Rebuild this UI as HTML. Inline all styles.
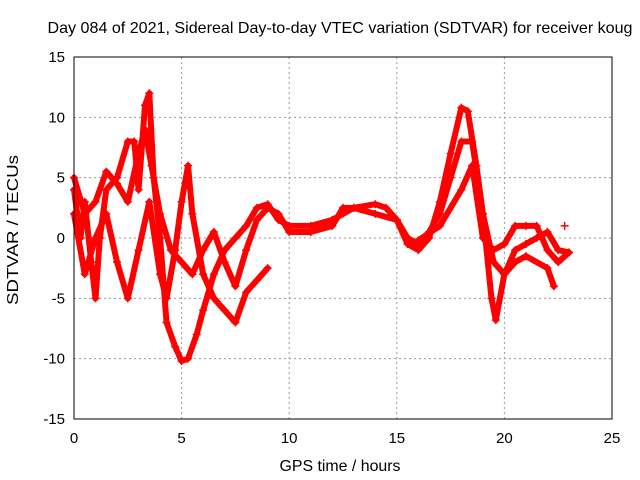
<!DOCTYPE html>
<html><head><meta charset="utf-8"><style>
body{margin:0;background:#fff;}
svg{display:block;font-family:"Liberation Sans",sans-serif;}
</style></head><body>
<svg id="chart" width="640" height="480">
<rect x="0" y="0" width="640" height="480" fill="#fff"/>
<text x="340" y="33" font-size="16" text-anchor="middle" textLength="585" lengthAdjust="spacingAndGlyphs">Day 084 of 2021, Sidereal Day-to-day VTEC variation (SDTVAR) for receiver koug</text>
<text x="340" y="471" font-size="16" text-anchor="middle" textLength="121" lengthAdjust="spacingAndGlyphs">GPS time / hours</text>
<text x="18" y="230" font-size="16" text-anchor="middle" textLength="150" lengthAdjust="spacingAndGlyphs" transform="rotate(-90 18 230)">SDTVAR / TECUs</text>
<g id="grid"></g><g id="ticks"></g><g id="series"></g>
<rect x="74" y="57" width="538" height="362" fill="none" stroke="#000" stroke-width="1"/>
</svg>
<script>
const xTicks=[0,5,10,15,20,25];
const yTicks=[15,10,5,0,-5,-10,-15];
const s1x=[0,0.3,0.5,0.8,1,1.2,1.5,2,2.5,2.8,3,3.3,3.5,3.7,4,4.3,4.7,5,5.3,5.7,6,6.5,7,7.5,8,8.5,9,9.5,10,11,12,13,14,14.5,15,15.5,16,16.5,17,17.5,18,18.3,18.7,19,19.4,19.6,20,20.5,21,21.5,22,22.5,23];
const s1y=[4,0,3,-2,-5,0,4,5,8,8,4,11,12,5,0,-7,-9,-10.2,-10,-8,-6,-3,-1,0,1,2.5,2.8,1.5,1,1,1.5,2.5,2.8,2.5,1.5,-0.5,-1,0,3,7,10.8,10.5,6,2,-5,-6.8,-3,-1,-0.5,0,0.5,-1,-1.2];
const s2x=[0,0.5,1,1.5,2,2.5,3,3.5,4,4.3,4.7,5,5.3,5.5,6,6.5,7,7.5,8,8.5,9];
const s2y=[2,-3,0,2,-2,-5,-1,3,-3,-5,-1,3,6,2,-3,-5,-6,-7,-4.5,-3.5,-2.5];
const s3x=[0,0.5,1,1.5,2,2.5,3,3.3,3.6,4,4.5,5,5.5,6,6.5,7,7.5,8,8.5,9,9.5,10,11,12,12.5,13,14,15,15.5,16,16.5,17,17.5,18,18.5,19,19.5,20,20.5,21,22,22.3];
const s3y=[5,2,3,5.5,4.5,3,7,9,6,2,-1,-2,-3,-1,0.5,-2,-4,-1,1.5,2.5,2,0.5,0.5,1,2.5,2.5,2,1.5,0,-0.5,0.5,2,5,8,8,2,-2,-3,-2,-1.5,-2.5,-4];
const s4x=[16,17,18,18.5,19,19.5,20,20.5,21,21.5,22,22.5,23];
const s4y=[-0.2,1,4,6,0,-1,-0.5,1,1,1,-1,-2,-1.2];
const s5x=[22.8];
const s5y=[1];
const NS="http://www.w3.org/2000/svg";
function X(v){return 74+v*538/25;}
function Y(v){return 238-v*362/30;}
const grid=document.getElementById('grid'),ticks=document.getElementById('ticks'),ser=document.getElementById('series');
function mk(tag,attrs,parent){const e=document.createElementNS(NS,tag);for(const k in attrs)e.setAttribute(k,attrs[k]);parent.appendChild(e);return e;}
xTicks.forEach(t=>{
 if(t>0&&t<25){const g=mk('line',{x1:X(t),x2:X(t),y1:57,y2:419,stroke:'#999','stroke-dasharray':'2,3','stroke-width':1},grid);
 
 }
 const l=mk('text',{x:X(t),y:443,'font-size':15,'text-anchor':'middle'},ticks);l.textContent=t;
 
 
});
yTicks.forEach(t=>{
 if(t>-15&&t<15){const g=mk('line',{x1:74,x2:612,y1:Y(t),y2:Y(t),stroke:'#999','stroke-dasharray':'2,3','stroke-width':1},grid);
 
 }
 const l=mk('text',{x:65,y:Y(t)+5,'font-size':15,'text-anchor':'end'},ticks);l.textContent=t;
 
 
});
function draw(xs,ys,name){
 const g=mk('g',{},ser);
 
 
 if(xs.length>1){const p=mk('polyline',{points:xs.map((v,i)=>X(v)+','+Y(ys[i])).join(' '),fill:'none',stroke:'#f00','stroke-width':6,'stroke-linejoin':'round','stroke-linecap':'round'},g);
 
 }
 xs.forEach((v,i)=>{const cx=X(v),cy=Y(ys[i]);
  const m=mk('path',{d:`M${cx-4},${cy}H${cx+4}M${cx},${cy-4}V${cy+4}`,stroke:'#f00','stroke-width':1.5},g);
  
  });
}
draw(s1x,s1y,'series-1');draw(s2x,s2y,'series-2');draw(s3x,s3y,'series-3');draw(s4x,s4y,'series-4');draw(s5x,s5y,'series-5');
</script>
</body></html>
